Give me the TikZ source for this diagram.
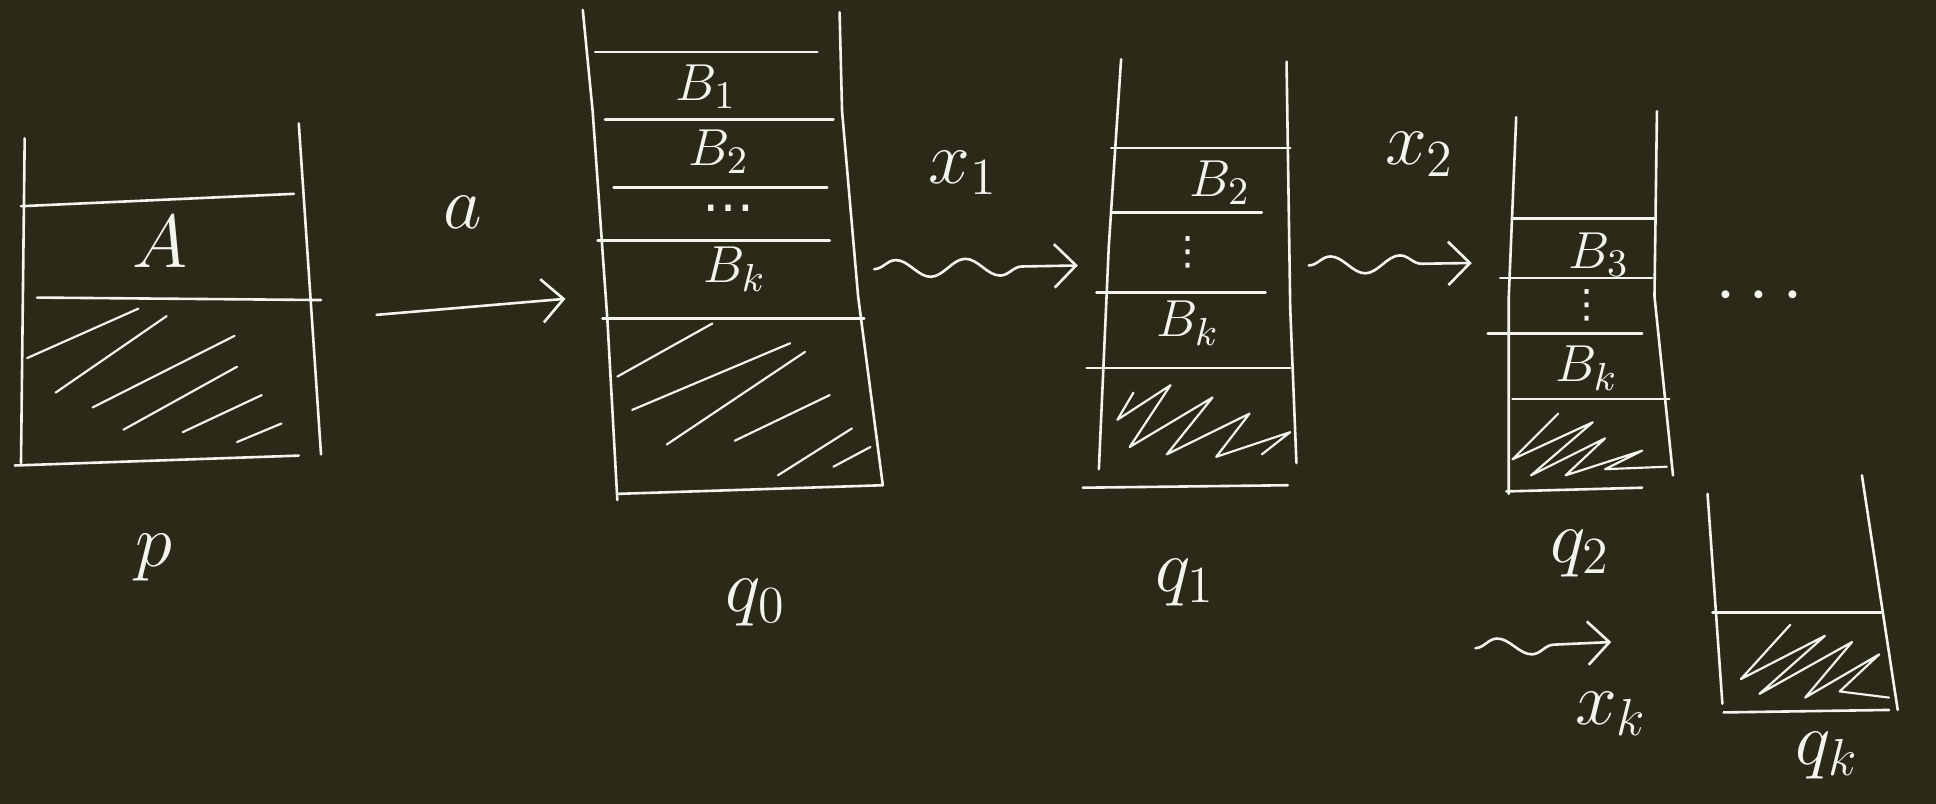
\documentclass[tikz,border=0pt]{standalone}
\usepackage{fontspec}
\newfontfamily\symfont{DejaVu Sans}
\usetikzlibrary{arrows.meta,decorations.pathmorphing}
\definecolor{board}{HTML}{2B2A18}
\definecolor{chalk}{HTML}{F4F4EF}
\tikzset{
  wall/.style={chalk, line width=0.6pt, line cap=round},
  hatch/.style={chalk, line width=0.5pt, line cap=round, line join=round},
  lbl/.style={text=chalk, inner sep=0pt, font=\fontsize{17}{19}\selectfont},
  slot/.style={text=chalk, inner sep=0pt, font=\fontsize{13}{15}\selectfont},
  dots/.style={text=chalk, inner sep=0pt, font=\symfont\fontsize{9}{10}\selectfont},
  move/.style={chalk, line width=0.6pt, line cap=round,
    -{Straight Barb[length=5pt,width=10pt]}},
  wavy/.style={move, decorate, decoration={snake, amplitude=2pt,
    segment length=16pt, post length=10pt}}
}

\begin{document}
\begin{tikzpicture}[x=0.01cm, y=-0.01cm]

\fill[board] (0,0) rectangle (1568,651);
\useasboundingbox (0,0) rectangle (1568,651);

%--- Stack p ---

\draw[wall] (20,112) -- (17,375);
\draw[wall] (242,100) -- (260,368);
\draw[wall] (17,167) -- (238,157);
\draw[wall] (30,241) -- (260,243);
\draw[wall] (12,377) -- (242,369);
\node[lbl] (A) at (130,196) {$A$};
\foreach \a/\b in {{22,290}/{112,250}, {45,318}/{135,256}, {75,330}/{190,272},
                   {100,348}/{192,297}, {148,350}/{212,320}, {192,358}/{228,343}}
  \draw[hatch] (\a) -- (\b);
\node[lbl] (p) at (125,452) {$p$};

%--- Stack q0 ---

\draw[wall] (472,8) -- (480,90) -- (492,260) -- (500,405);
\draw[wall] (680,10) -- (682,90) -- (695,240) -- (715,393);
\foreach \y/\l/\r in {42/482/662, 97/490/675, 152/497/670, 195/484/672, 258/488/700}
  \draw[wall] (\l,\y) -- (\r,\y);
\draw[wall] (500,400) -- (715,393);
\node[slot] (B1) at (572,70)  {$B_1$};
\node[slot] (B2) at (582,123) {$B_2$};
\node[dots, font=\symfont\fontsize{12}{13}\selectfont] (dd) at (590,174) {⋯};
\node[slot] (Bk) at (595,218) {$B_k$};
\foreach \a/\b in {{500,305}/{577,262}, {512,332}/{640,278}, {540,360}/{652,285},
                   {595,357}/{672,320}, {630,385}/{690,347}, {675,378}/{705,362}}
  \draw[hatch] (\a) -- (\b);
\node[lbl] (q0) at (612,488) {$q_0$};

%--- Stack q1 ---

\draw[wall] (908,48) -- (898,200) -- (890,380);
\draw[wall] (1042,50) -- (1045,250) -- (1050,375);
\foreach \y/\l/\r in {120/900/1045, 172/900/1022, 237/888/1025, 298/880/1045}
  \draw[wall] (\l,\y) -- (\r,\y);
\draw[wall] (877,395) -- (1043,393);
\node[slot] (B2b) at (988,148) {$B_2$};
\node[dots] (vd1) at (962,204) {⋮};
\node[slot] (Bkb) at (962,262) {$B_k$};
\draw[hatch] (918,318) -- (905,340) -- (948,312) -- (915,362) -- (982,322)
  -- (945,368) -- (1012,335) -- (985,370) -- (1045,350) -- (1022,368);
\node[lbl] (q1) at (960,472) {$q_1$};

%--- Stack q2 ---

\draw[wall] (1228,95) -- (1222,240) -- (1222,400);
\draw[wall] (1342,90) -- (1340,240) -- (1355,385);
\foreach \y/\l/\r in {177/1225/1340, 225/1215/1338, 270/1205/1330, 323/1225/1352}
  \draw[wall] (\l,\y) -- (\r,\y);
\draw[wall] (1220,398) -- (1330,395);
\node[slot] (B3c) at (1295,206) {$B_3$};
\node[dots] (vd2) at (1285,247) {⋮};
\node[slot] (Bkc) at (1285,298) {$B_k$};
\draw[hatch] (1262,335) -- (1225,372) -- (1290,342) -- (1240,385) -- (1300,355)
  -- (1268,385) -- (1330,365) -- (1300,380) -- (1350,378);
\node[lbl] (q2) at (1280,448) {$q_2$};

\node[lbl] (more) at (1425,240) {$\cdots$};

%--- Stack qk ---

\draw[wall] (1383,400) -- (1395,570);
\draw[wall] (1508,385) -- (1537,575);
\draw[wall] (1387,496) -- (1525,496);
\draw[wall] (1396,577) -- (1530,575);
\draw[hatch] (1450,506) -- (1410,550) -- (1478,515) -- (1425,562) -- (1500,520)
  -- (1462,565) -- (1522,530) -- (1490,560) -- (1530,565);
\node[lbl] (qk) at (1480,612) {$q_k$};

%--- Moves ---

\coordinate (p-out)  at (305,255);
\coordinate (q0-in)  at (458,242);
\coordinate (q0-out) at (708,218);
\coordinate (q1-in)  at (873,215);
\coordinate (q1-out) at (1060,215);
\coordinate (q2-in)  at (1192,213);
\coordinate (xk-from) at (1195,525);
\coordinate (xk-to)   at (1305,520);

\draw[move] (p-out) -- (q0-in);
\draw[wavy] (q0-out) -- (q1-in);
\draw[wavy] (q1-out) -- (q2-in);
\draw[wavy] (xk-from) -- (xk-to);

\node[lbl] (a)  at (375,172)  {$a$};
\node[lbl] (x1) at (780,140)  {$x_1$};
\node[lbl] (x2) at (1150,125) {$x_2$};
\node[lbl] (xk) at (1305,578) {$x_k$};

\end{tikzpicture}
\end{document}
